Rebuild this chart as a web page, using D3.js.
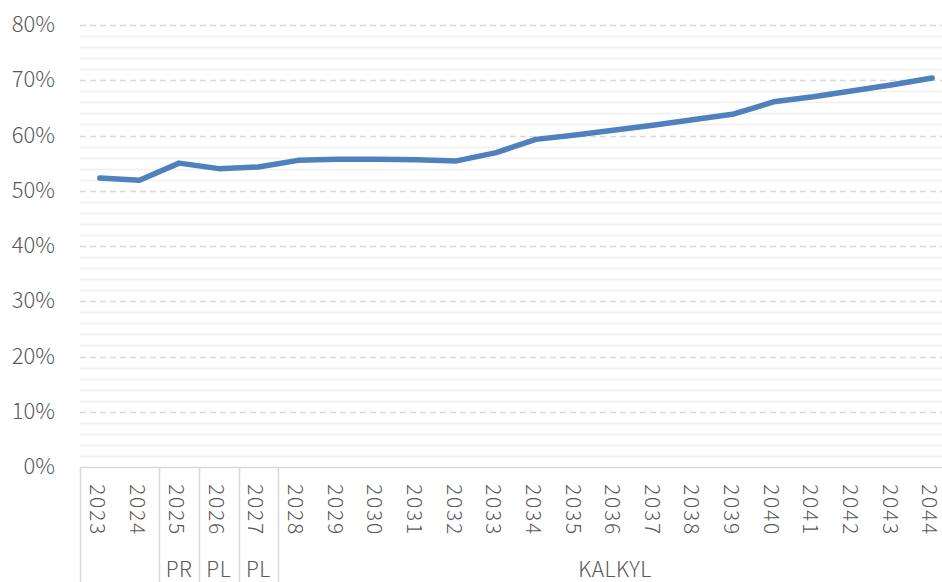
<!DOCTYPE html>
<html>
<head>
<meta charset="utf-8">
<script src="https://cdn.jsdelivr.net/npm/d3@7"></script>
<style>
    html, body { margin: 0; padding: 0; background: #fff; }
    svg { display: block; }
    svg text { font-family: "Noto Sans CJK JP", "Noto Sans", sans-serif; font-weight: 300; }
</style>
</head>
<body>
<svg id="chart" width="942" height="582"></svg>
<script>
// chart data
const years = ['2023', '2024', '2025', '2026', '2027', '2028', '2029', '2030', '2031', '2032', '2033',
               '2034', '2035', '2036', '2037', '2038', '2039', '2040', '2041', '2042', '2043', '2044'];
const shares = [0.523, 0.519, 0.550, 0.540, 0.543, 0.555, 0.557, 0.557, 0.556, 0.554, 0.569,
                0.593, 0.601, 0.610, 0.619, 0.629, 0.639, 0.661, 0.670, 0.681, 0.692, 0.704];
const groupLabels = ['', 'PR', 'PL', 'PL', 'KALKYL'];
const groupSpans = [2, 1, 1, 1, 17];
const yTicks = [0, 0.1, 0.2, 0.3, 0.4, 0.5, 0.6, 0.7, 0.8];

const svg = d3.select('#chart');
const plotLeft = 80, plotRight = 952, plotTop = 25, plotBottom = 467;
const textColor = '#595959';

const x = d3.scaleBand().domain(years).range([plotLeft, plotRight]).padding(0);
const y = d3.scaleLinear().domain([0, 0.8]).range([plotBottom, plotTop]);

// minor gridlines every 2%
const minor = d3.range(0, 0.8001, 0.02).filter(v => Math.abs(Math.round(v * 10) - v * 10) > 1e-6);
svg.append('g')
    .selectAll('line')
    .data(minor)
    .enter()
    .append('line')
    .attr('x1', plotLeft).attr('x2', plotRight)
    .attr('y1', d => Math.round(y(d)) + 0.5)
    .attr('y2', d => Math.round(y(d)) + 0.5)
    .attr('stroke', '#f0f0f0')
    .attr('stroke-width', 1.5);

// major dashed gridlines
svg.append('g')
    .selectAll('line')
    .data(yTicks.filter(d => d > 0))
    .enter()
    .append('line')
    .attr('x1', plotLeft).attr('x2', plotRight)
    .attr('y1', d => Math.round(y(d)) + 0.5)
    .attr('y2', d => Math.round(y(d)) + 0.5)
    .attr('stroke', '#d9d9d9')
    .attr('stroke-width', 1.5)
    .attr('stroke-dasharray', '6,4');

// y axis labels
const yAxis = d3.axisLeft(y).tickValues(yTicks).tickFormat(d3.format('.0%')).tickSize(0).tickPadding(0);
svg.append('g')
    .attr('transform', `translate(55,0)`)
    .call(yAxis)
    .attr('font-family', null)
    .call(g => g.select('.domain').remove())
    .selectAll('text')
    .attr('font-size', 22)
    .attr('dy', '0.3em')
    .attr('fill', textColor);

// category axis line
svg.append('line')
    .attr('x1', plotLeft).attr('x2', plotRight)
    .attr('y1', plotBottom + 0.5).attr('y2', plotBottom + 0.5)
    .attr('stroke', '#d9d9d9')
    .attr('stroke-width', 1.5);

// year labels, rotated
svg.append('g')
    .selectAll('text')
    .data(years)
    .enter()
    .append('text')
    .attr('transform', d => `translate(${x(d) + x.bandwidth() / 2},484) rotate(90)`)
    .attr('dy', '0.47em')
    .attr('text-anchor', 'start')
    .attr('font-size', 21)
    .attr('letter-spacing', 1.8)
    .attr('fill', textColor)
    .text(d => d);

// group separators and labels
let start = 0;
const groups = groupLabels.map((label, i) => {
    const g = { label, from: start, to: start + groupSpans[i] };
    start += groupSpans[i];
    return g;
});
const sepIdx = [0].concat(groups.map(g => g.to).slice(0, -1));
svg.append('g')
    .selectAll('line')
    .data(sepIdx)
    .enter()
    .append('line')
    .attr('x1', d => Math.round(x(years[d])) + 0.5)
    .attr('x2', d => Math.round(x(years[d])) + 0.5)
    .attr('y1', plotBottom).attr('y2', 582)
    .attr('stroke', '#d9d9d9')
    .attr('stroke-width', 1.5);

svg.append('g')
    .selectAll('text')
    .data(groups)
    .enter()
    .append('text')
    .attr('x', d => (x(years[d.from]) + x(years[d.to - 1]) + x.bandwidth()) / 2)
    .attr('y', 577)
    .attr('text-anchor', 'middle')
    .attr('font-size', 21)
    .attr('letter-spacing', 0.5)
    .attr('fill', textColor)
    .text(d => d.label);

// the line
const line = d3.line()
    .x((d, i) => x(years[i]) + x.bandwidth() / 2)
    .y(d => y(d));
svg.append('path')
    .datum(shares)
    .attr('d', line)
    .attr('fill', 'none')
    .attr('stroke', '#4f81bd')
    .attr('stroke-width', 5.5)
    .attr('stroke-linejoin', 'round')
    .attr('stroke-linecap', 'round');
</script>
</body>
</html>
